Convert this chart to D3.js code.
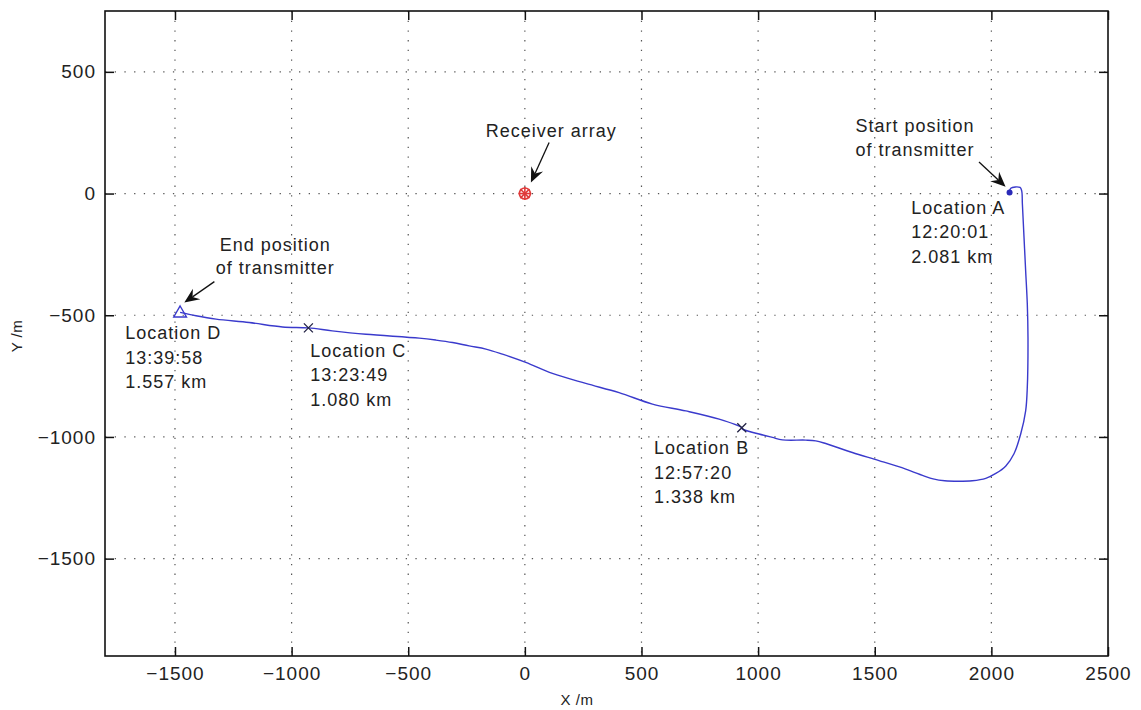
<!DOCTYPE html>
<html>
<head>
<meta charset="utf-8">
<script src="https://cdn.jsdelivr.net/npm/d3@7/dist/d3.min.js"></script>
<style>
  html, body { margin: 0; padding: 0; background: #fff; }
  svg { display: block; }
  text { font-family: "Liberation Sans", Arial, Helvetica, sans-serif; fill: #222; }
</style>
</head>
<body>
<svg id="chart" width="1141" height="710"></svg>
<script>
// Axis extents and ticks (metres)
const xDomain = [-1800, 2500];
const yDomain = [-1900, 750];
const xTicks = [-1500, -1000, -500, 0, 500, 1000, 1500, 2000, 2500];
const yTicks = [-1500, -1000, -500, 0, 500];

// Transmitter track, in time order from location A to location D (x, y in m)
const trackX = [2078, 2083, 2123, 2130, 2133, 2140, 2147, 2154, 2157, 2154, 2147, 2126, 2097, 2062, 2019, 1976, 1918, 1860, 1800, 1750, 1719, 1633, 1518, 1404, 1290, 1247, 1204, 1104, 1061, 1004, 933, 930, 833, 690, 547, 404, 261, 118, 4, -96, -167, -239, -310, -381, -453, -681, -826, -928, -1039, -1182, -1324, -1410, -1478];
const trackY = [4, 22, 25, 11, -44, -181, -318, -453, -592, -797, -893, -987, -1069, -1119, -1150, -1170, -1180, -1182, -1180, -1172, -1163, -1132, -1097, -1064, -1027, -1016, -1013, -1012, -1002, -988, -968, -962, -927, -893, -865, -818, -780, -739, -694, -660, -639, -626, -612, -602, -594, -578, -564, -552, -548, -530, -516, -502, -488];

// Named locations along the track
const locNames = ["Location A", "Location B", "Location C", "Location D"];
const locTimes = ["12:20:01", "12:57:20", "13:23:49", "13:39:58"];
const locDist = ["2.081 km", "1.338 km", "1.080 km", "1.557 km"];
const locX = [2078, 930, -928, -1478];
const locY = [4, -962, -552, -488];
// Anchor of each three-line label (data units, first baseline, left edge)
const locLabelX = [1656, 554, -920, -1713];
const locLabelY = [-83, -1071, -671, -598];

// Receiver array at the origin
const receiver = [0, 0];

// Callout notes with arrows (text centre, arrow start, arrow tip), data units
const notes = [
  { lines: ["Start position", "of transmitter"], tx: 1673, ty: 251, ax0: 1947, ay0: 130, ax1: 2061, ay1: 28 },
  { lines: ["Receiver array"], tx: 113, ty: 233, ax0: 104, ay0: 210, ax1: 26, ay1: 45 },
  { lines: ["End position", "of transmitter"], tx: -1070, ty: -235, ax0: -1331, ay0: -362, ax1: -1460, ay1: -448 }
];

const svg = d3.select("#chart");
const plotLeft = 105, plotRight = 1108, plotTop = 11, plotBottom = 656;

const x = d3.scaleLinear().domain(xDomain).range([plotLeft, plotRight]);
const y = d3.scaleLinear().domain(yDomain).range([plotBottom, plotTop]);

const fmt = d => (d < 0 ? "\u2212" + Math.abs(d) : String(d));

// Dotted grid
const grid = svg.append("g").attr("stroke", "#555").attr("stroke-width", 1.2)
  .attr("stroke-dasharray", "1.3 8.4").attr("fill", "none");
xTicks.filter(d => d > xDomain[0] && d < xDomain[1]).forEach(d => {
  grid.append("line").attr("x1", x(d)).attr("x2", x(d)).attr("y1", plotTop).attr("y2", plotBottom);
});
yTicks.filter(d => d > yDomain[0] && d < yDomain[1]).forEach(d => {
  grid.append("line").attr("y1", y(d)).attr("y2", y(d)).attr("x1", plotLeft).attr("x2", plotRight);
});

// Axes with inward ticks on all four sides
function styleAxis(g, labels) {
  g.select(".domain").remove();
  g.selectAll(".tick line").attr("stroke", "#111").attr("stroke-width", 1.5);
  g.selectAll(".tick text")
    .style("font-size", "19px").style("letter-spacing", "1px").attr("fill", "#222");
  if (!labels) g.selectAll(".tick text").remove();
}
svg.append("g").attr("transform", `translate(0,${plotBottom})`)
  .call(d3.axisBottom(x).tickValues(xTicks).tickSizeInner(-9).tickSizeOuter(0).tickPadding(11).tickFormat(fmt))
  .call(g => styleAxis(g, true));
svg.append("g").attr("transform", `translate(0,${plotTop})`)
  .call(d3.axisTop(x).tickValues(xTicks).tickSizeInner(-9).tickSizeOuter(0))
  .call(g => styleAxis(g, false));
svg.append("g").attr("transform", `translate(${plotLeft},0)`)
  .call(d3.axisLeft(y).tickValues(yTicks).tickSizeInner(-9).tickSizeOuter(0).tickPadding(9).tickFormat(fmt))
  .call(g => styleAxis(g, true));
svg.append("g").attr("transform", `translate(${plotRight},0)`)
  .call(d3.axisRight(y).tickValues(yTicks).tickSizeInner(-9).tickSizeOuter(0))
  .call(g => styleAxis(g, false));

// Frame
svg.append("rect").attr("x", plotLeft).attr("y", plotTop)
  .attr("width", plotRight - plotLeft).attr("height", plotBottom - plotTop)
  .attr("fill", "none").attr("stroke", "#111").attr("stroke-width", 1.6);

// Axis titles
svg.append("text").attr("x", 577).attr("y", 705).attr("text-anchor", "middle")
  .style("font-size", "15px").style("letter-spacing", "0.5px").text("X /m");
svg.append("text").attr("transform", "translate(22,336) rotate(-90)").attr("text-anchor", "middle")
  .style("font-size", "15px").style("letter-spacing", "0.5px").text("Y /m");

// Track
const track = trackX.map((d, i) => [d, trackY[i]]);
svg.append("path").datum(track)
  .attr("d", d3.line().x(d => x(d[0])).y(d => y(d[1])).curve(d3.curveCatmullRom.alpha(0.5)))
  .attr("fill", "none").attr("stroke", "#3a3acc").attr("stroke-width", 1.4);

// Start marker (A): filled dot
svg.append("circle").attr("cx", x(locX[0])).attr("cy", y(locY[0])).attr("r", 3)
  .attr("fill", "#2a2ab8");
// Intermediate markers (B, C): crosses
[1, 2].forEach(i => {
  const cx = x(locX[i]), cy = y(locY[i]), s = 4.5;
  svg.append("path")
    .attr("d", `M${cx - s},${cy - s}L${cx + s},${cy + s}M${cx - s},${cy + s}L${cx + s},${cy - s}`)
    .attr("stroke", "#222244").attr("stroke-width", 1.3);
});
// End marker (D): open triangle
{
  const cx = x(locX[3]), cy = y(locY[3]);
  svg.append("path").attr("d", d3.symbol(d3.symbolTriangle, 70)())
    .attr("transform", `translate(${cx},${cy + 1})`)
    .attr("fill", "none").attr("stroke", "#3a3acc").attr("stroke-width", 1.4);
}

// Receiver array marker: red circle with asterisk
{
  const cx = x(receiver[0]), cy = y(receiver[1]);
  const g = svg.append("g").attr("stroke", "#e03a3a").attr("stroke-width", 1.6).attr("fill", "none");
  g.append("circle").attr("cx", cx).attr("cy", cy).attr("r", 5.5);
  [0, 45, 90, 135].forEach(a => {
    const r = 6.5, t = a * Math.PI / 180;
    g.append("line").attr("x1", cx - r * Math.cos(t)).attr("y1", cy - r * Math.sin(t))
      .attr("x2", cx + r * Math.cos(t)).attr("y2", cy + r * Math.sin(t));
  });
}

// Location labels
const lineGap = 24.5;
locNames.forEach((name, i) => {
  const t = svg.append("text").style("font-size", "18px").style("letter-spacing", "1px");
  [name, locTimes[i], locDist[i]].forEach((s, k) => {
    t.append("tspan").attr("x", x(locLabelX[i])).attr("y", y(locLabelY[i]) + k * lineGap).text(s);
  });
});

// Callouts with arrows
notes.forEach(n => {
  const t = svg.append("text").attr("text-anchor", "middle")
    .style("font-size", "18px").style("letter-spacing", "1px");
  n.lines.forEach((s, k) => {
    t.append("tspan").attr("x", x(n.tx)).attr("y", y(n.ty) + k * 23.5).text(s);
  });
  const x0 = x(n.ax0), y0 = y(n.ay0), x1 = x(n.ax1), y1 = y(n.ay1);
  const dx = x1 - x0, dy = y1 - y0, len = Math.hypot(dx, dy);
  const ux = dx / len, uy = dy / len, px = -uy, py = ux;
  const L = 15, W = 6.5, N = 10;
  svg.append("line").attr("x1", x0).attr("y1", y0)
    .attr("x2", x1 - ux * N).attr("y2", y1 - uy * N)
    .attr("stroke", "#111").attr("stroke-width", 1.3);
  const bx = x1 - ux * L, by = y1 - uy * L;
  const nx = x1 - ux * N, ny = y1 - uy * N;
  svg.append("path")
    .attr("d", `M${x1},${y1}L${bx + px * W},${by + py * W}L${nx},${ny}L${bx - px * W},${by - py * W}Z`)
    .attr("fill", "#111");
});
</script>
</body>
</html>
